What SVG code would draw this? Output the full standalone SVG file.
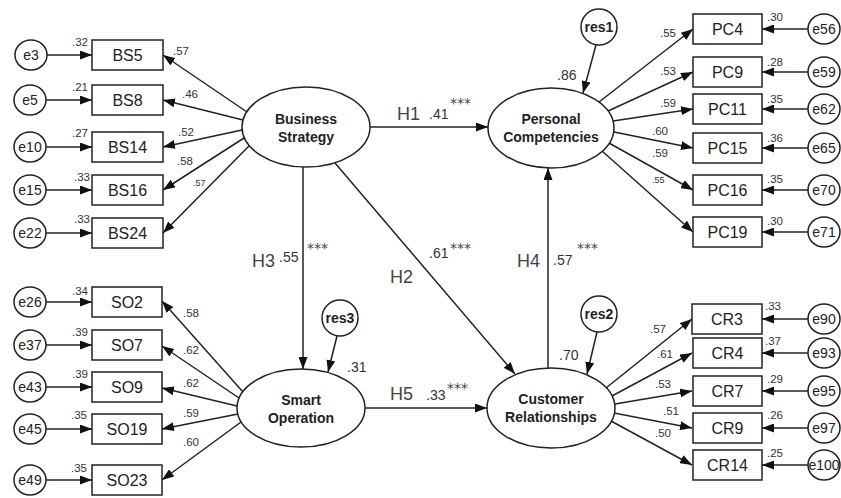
<svg xmlns="http://www.w3.org/2000/svg" width="841" height="498" viewBox="0 0 841 498">
<style>
.bg{fill:#ffffff}
.sh{fill:#ffffff;stroke:#222;stroke-width:1.5}
.ln{fill:none;stroke:#222;stroke-width:1.5;marker-end:url(#arr)}
.t{font-family:"Liberation Sans",Arial,sans-serif;fill:#222}
.box{font-size:16px;text-anchor:middle}
.err{font-size:14px;text-anchor:middle}
.lat{font-size:14px;font-weight:bold;text-anchor:middle}
.res{font-size:14px;font-weight:bold;text-anchor:middle}
.n{font-size:11.5px;fill:#333}
.ns{font-size:9px;fill:#333}
.nb{font-size:14px;fill:#333}
.h{font-size:18px;fill:#444}
.st{font-family:"DejaVu Sans",sans-serif;font-size:14px;fill:#444}
.end{text-anchor:end}
</style>
<defs>
<marker id="arr" markerUnits="userSpaceOnUse" markerWidth="13" markerHeight="9" refX="12" refY="4.5" orient="auto">
<path d="M0,0 L12,4.5 L0,9 z" fill="#111"/>
</marker>
</defs>
<rect class="bg" x="0" y="0" width="841" height="498"/>

<g id="connectors">
<path class="ln" d="M47,55 L92,55"/>
<path class="ln" d="M46,100 L92,100"/>
<path class="ln" d="M46,147 L92,147"/>
<path class="ln" d="M46,190 L92,190"/>
<path class="ln" d="M46,233 L92,233"/>
<path class="ln" d="M46,302 L92,302"/>
<path class="ln" d="M46,345 L92,345"/>
<path class="ln" d="M46,387 L92,387"/>
<path class="ln" d="M46,429 L92,429"/>
<path class="ln" d="M46,480 L92,480"/>
<path class="ln" d="M247,112 L163,55"/>
<path class="ln" d="M243,120 L163,100"/>
<path class="ln" d="M242,130 L163,147"/>
<path class="ln" d="M244,138 L163,190"/>
<path class="ln" d="M249,146 L163,233"/>
<path class="ln" d="M243,392 L162,301"/>
<path class="ln" d="M239,398 L162,346"/>
<path class="ln" d="M237,406 L162,388"/>
<path class="ln" d="M238,414 L162,429"/>
<path class="ln" d="M241,422 L162,480"/>
<path class="ln" d="M599,102 L693,29"/>
<path class="ln" d="M608,111 L693,72"/>
<path class="ln" d="M613,121 L693,109"/>
<path class="ln" d="M614,132 L693,148"/>
<path class="ln" d="M609,143 L693,190"/>
<path class="ln" d="M602,151 L693,232"/>
<path class="ln" d="M606,388 L692,319"/>
<path class="ln" d="M612,396 L692,353"/>
<path class="ln" d="M615,404 L692,391"/>
<path class="ln" d="M614,413 L692,428"/>
<path class="ln" d="M611,421 L692,465"/>
<path class="ln" d="M808,29 L762,29"/>
<path class="ln" d="M808,72 L762,72"/>
<path class="ln" d="M808,109 L762,109"/>
<path class="ln" d="M808,148 L762,148"/>
<path class="ln" d="M808,190 L762,190"/>
<path class="ln" d="M808,232 L762,232"/>
<path class="ln" d="M808,319 L762,319"/>
<path class="ln" d="M808,353 L762,353"/>
<path class="ln" d="M808,391 L762,391"/>
<path class="ln" d="M808,428 L762,428"/>
<path class="ln" d="M808,465 L762,465"/>
<path class="ln" d="M596,45 L583,93"/>
<path class="ln" d="M597,332 L587,374"/>
<path class="ln" d="M337,336 L328,372"/>
<path class="ln" d="M370,127 L488,127"/>
<path class="ln" d="M335,163 L515,374"/>
<path class="ln" d="M303,167 L303,369"/>
<path class="ln" d="M548,368 L548,168"/>
<path class="ln" d="M365,408 L487,408"/>

<text class="t n end" x="88" y="46">.32</text>
<text class="t n end" x="88" y="91">.21</text>
<text class="t n end" x="88" y="137">.27</text>
<text class="t n end" x="90" y="181">.33</text>
<text class="t n end" x="90" y="223">.33</text>
<text class="t n end" x="88" y="295">.34</text>
<text class="t n end" x="88" y="336">.39</text>
<text class="t n end" x="88" y="378">.39</text>
<text class="t n end" x="87" y="419">.35</text>
<text class="t n end" x="87" y="472">.35</text>
<text class="t n" x="173" y="55">.57</text>
<text class="t n" x="182" y="98">.46</text>
<text class="t n" x="178" y="136">.52</text>
<text class="t n" x="177" y="165">.58</text>
<text class="t ns" x="193" y="186">.57</text>
<text class="t n" x="183" y="317">.58</text>
<text class="t n" x="183" y="354">.62</text>
<text class="t n" x="183" y="387">.62</text>
<text class="t n" x="183" y="417">.59</text>
<text class="t n" x="183" y="446">.60</text>
<text class="t n" x="660" y="37">.55</text>
<text class="t n" x="660" y="75">.53</text>
<text class="t n" x="660" y="107">.59</text>
<text class="t n" x="652" y="135">.60</text>
<text class="t n" x="652" y="157">.59</text>
<text class="t ns" x="652" y="183">.55</text>
<text class="t n" x="650" y="333">.57</text>
<text class="t n" x="657" y="358">.61</text>
<text class="t n" x="655" y="388">.53</text>
<text class="t n" x="663" y="415">.51</text>
<text class="t n" x="655" y="437">.50</text>
<text class="t n" x="767" y="21">.30</text>
<text class="t n" x="767" y="66">.28</text>
<text class="t n" x="767" y="103">.35</text>
<text class="t n" x="767" y="142">.36</text>
<text class="t n" x="767" y="183">.35</text>
<text class="t n" x="767" y="225">.30</text>
<text class="t n" x="765" y="310">.33</text>
<text class="t n" x="765" y="345">.37</text>
<text class="t n" x="767" y="383">.29</text>
<text class="t n" x="767" y="419">.26</text>
<text class="t n" x="767" y="457">.25</text>
<text class="t nb" x="557" y="80">.86</text>
<text class="t nb" x="559" y="360">.70</text>
<text class="t nb" x="347" y="372">.31</text>
<text class="t h" x="397" y="120">H1</text>
<text class="t nb" x="429" y="119">.41</text>
<text class="st" x="450" y="108">***</text>
<text class="t h" x="390" y="283">H2</text>
<text class="t nb" x="429" y="258">.61</text>
<text class="st" x="450" y="253">***</text>
<text class="t h" x="252" y="267">H3</text>
<text class="t nb" x="279" y="262">.55</text>
<text class="st" x="307" y="253">***</text>
<text class="t h" x="517" y="267">H4</text>
<text class="t nb" x="553" y="265">.57</text>
<text class="st" x="577" y="253">***</text>
<text class="t h" x="390" y="400">H5</text>
<text class="t nb" x="426" y="400">.33</text>
<text class="st" x="447" y="393">***</text>
</g>

<g id="BusinessStrategy"><ellipse class="sh" cx="306" cy="127" rx="64" ry="40"/><text class="t lat" x="306" y="124">Business</text><text class="t lat" x="306" y="142">Strategy</text></g>
<g id="PersonalCompetencies"><ellipse class="sh" cx="551" cy="128" rx="63" ry="40"/><text class="t lat" x="551" y="124">Personal</text><text class="t lat" x="551" y="142">Competencies</text></g>
<g id="SmartOperation"><ellipse class="sh" cx="301" cy="408" rx="64" ry="39"/><text class="t lat" x="301" y="405">Smart</text><text class="t lat" x="301" y="423">Operation</text></g>
<g id="CustomerRelationships"><ellipse class="sh" cx="551" cy="408" rx="64" ry="40"/><text class="t lat" x="551" y="404">Customer</text><text class="t lat" x="551" y="422">Relationships</text></g>

<g id="res1"><circle class="sh" cx="599" cy="27" r="18"/><text class="t res" x="599" y="32">res1</text></g>
<g id="res2"><circle class="sh" cx="599" cy="314" r="18"/><text class="t res" x="599" y="319">res2</text></g>
<g id="res3"><circle class="sh" cx="340" cy="318" r="18"/><text class="t res" x="340" y="323">res3</text></g>

<g id="BS5"><rect class="sh" x="92" y="40" width="71" height="30"/><text class="t box" x="127.5" y="61">BS5</text></g>
<g id="BS8"><rect class="sh" x="92" y="85" width="71" height="30"/><text class="t box" x="127.5" y="106">BS8</text></g>
<g id="BS14"><rect class="sh" x="92" y="132" width="71" height="30"/><text class="t box" x="127.5" y="153">BS14</text></g>
<g id="BS16"><rect class="sh" x="92" y="175" width="71" height="30"/><text class="t box" x="127.5" y="196">BS16</text></g>
<g id="BS24"><rect class="sh" x="92" y="218" width="71" height="30"/><text class="t box" x="127.5" y="239">BS24</text></g>
<g id="SO2"><rect class="sh" x="92" y="287" width="70" height="30"/><text class="t box" x="127" y="308">SO2</text></g>
<g id="SO7"><rect class="sh" x="92" y="330" width="70" height="30"/><text class="t box" x="127" y="351">SO7</text></g>
<g id="SO9"><rect class="sh" x="92" y="372" width="70" height="30"/><text class="t box" x="127" y="393">SO9</text></g>
<g id="SO19"><rect class="sh" x="92" y="414" width="70" height="30"/><text class="t box" x="127" y="435">SO19</text></g>
<g id="SO23"><rect class="sh" x="92" y="465" width="70" height="30"/><text class="t box" x="127" y="486">SO23</text></g>
<g id="e3"><ellipse class="sh" cx="31" cy="55" rx="16" ry="15"/><text class="t err" x="31" y="60">e3</text></g>
<g id="e5"><ellipse class="sh" cx="30" cy="100" rx="16" ry="15"/><text class="t err" x="30" y="105">e5</text></g>
<g id="e10"><ellipse class="sh" cx="30" cy="147" rx="16" ry="15"/><text class="t err" x="30" y="152">e10</text></g>
<g id="e15"><ellipse class="sh" cx="30" cy="190" rx="16" ry="15"/><text class="t err" x="30" y="195">e15</text></g>
<g id="e22"><ellipse class="sh" cx="30" cy="233" rx="16" ry="15"/><text class="t err" x="30" y="238">e22</text></g>
<g id="e26"><ellipse class="sh" cx="30" cy="302" rx="16" ry="15"/><text class="t err" x="30" y="307">e26</text></g>
<g id="e37"><ellipse class="sh" cx="30" cy="345" rx="16" ry="15"/><text class="t err" x="30" y="350">e37</text></g>
<g id="e43"><ellipse class="sh" cx="30" cy="387" rx="16" ry="15"/><text class="t err" x="30" y="392">e43</text></g>
<g id="e45"><ellipse class="sh" cx="30" cy="429" rx="16" ry="15"/><text class="t err" x="30" y="434">e45</text></g>
<g id="e49"><ellipse class="sh" cx="30" cy="480" rx="16" ry="15"/><text class="t err" x="30" y="485">e49</text></g>

<g id="PC4"><rect class="sh" x="693" y="14" width="69" height="30"/><text class="t box" x="727.5" y="35">PC4</text></g>
<g id="PC9"><rect class="sh" x="693" y="57" width="69" height="30"/><text class="t box" x="727.5" y="78">PC9</text></g>
<g id="PC11"><rect class="sh" x="693" y="94" width="69" height="30"/><text class="t box" x="727.5" y="115">PC11</text></g>
<g id="PC15"><rect class="sh" x="693" y="133" width="69" height="30"/><text class="t box" x="727.5" y="154">PC15</text></g>
<g id="PC16"><rect class="sh" x="693" y="175" width="69" height="30"/><text class="t box" x="727.5" y="196">PC16</text></g>
<g id="PC19"><rect class="sh" x="693" y="217" width="69" height="30"/><text class="t box" x="727.5" y="238">PC19</text></g>
<g id="CR3"><rect class="sh" x="692" y="304" width="70" height="30"/><text class="t box" x="727" y="325">CR3</text></g>
<g id="CR4"><rect class="sh" x="693" y="338" width="69" height="30"/><text class="t box" x="727.5" y="359">CR4</text></g>
<g id="CR7"><rect class="sh" x="693" y="376" width="69" height="30"/><text class="t box" x="727.5" y="397">CR7</text></g>
<g id="CR9"><rect class="sh" x="693" y="413" width="69" height="30"/><text class="t box" x="727.5" y="434">CR9</text></g>
<g id="CR14"><rect class="sh" x="693" y="450" width="69" height="30"/><text class="t box" x="727.5" y="471">CR14</text></g>
<g id="e56"><ellipse class="sh" cx="824" cy="29" rx="16" ry="15"/><text class="t err" x="824" y="34">e56</text></g>
<g id="e59"><ellipse class="sh" cx="824" cy="72" rx="16" ry="15"/><text class="t err" x="824" y="77">e59</text></g>
<g id="e62"><ellipse class="sh" cx="824" cy="109" rx="16" ry="15"/><text class="t err" x="824" y="114">e62</text></g>
<g id="e65"><ellipse class="sh" cx="824" cy="148" rx="16" ry="15"/><text class="t err" x="824" y="153">e65</text></g>
<g id="e70"><ellipse class="sh" cx="824" cy="190" rx="16" ry="15"/><text class="t err" x="824" y="195">e70</text></g>
<g id="e71"><ellipse class="sh" cx="824" cy="232" rx="16" ry="15"/><text class="t err" x="824" y="237">e71</text></g>
<g id="e90"><ellipse class="sh" cx="824" cy="319" rx="16" ry="15"/><text class="t err" x="824" y="324">e90</text></g>
<g id="e93"><ellipse class="sh" cx="824" cy="353" rx="16" ry="15"/><text class="t err" x="824" y="358">e93</text></g>
<g id="e95"><ellipse class="sh" cx="824" cy="391" rx="16" ry="15"/><text class="t err" x="824" y="396">e95</text></g>
<g id="e97"><ellipse class="sh" cx="824" cy="428" rx="16" ry="15"/><text class="t err" x="824" y="433">e97</text></g>
<g id="e100"><ellipse class="sh" cx="824" cy="465" rx="16" ry="15"/><text class="t err" x="824" y="470">e100</text></g>
</svg>
